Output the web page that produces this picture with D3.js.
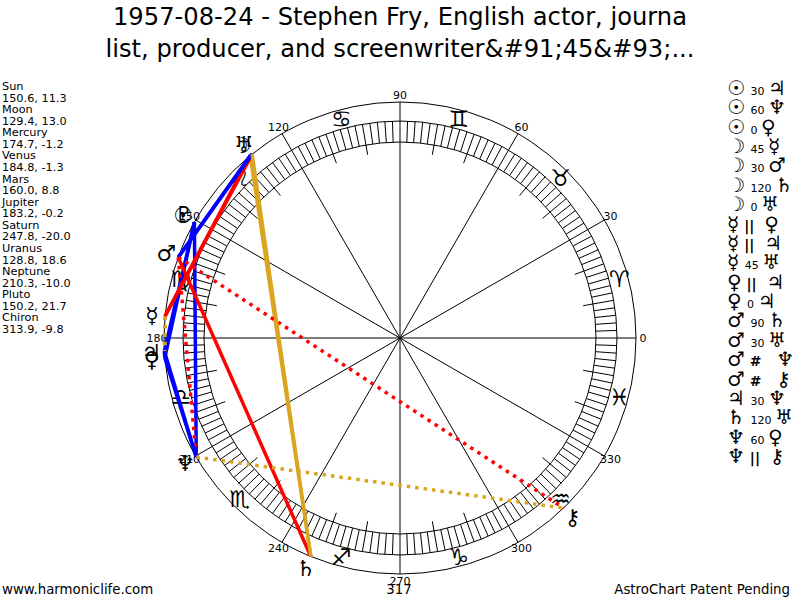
<!DOCTYPE html>
<html><head><meta charset="utf-8">
<script src="https://cdn.jsdelivr.net/npm/d3@7/dist/d3.min.js"></script>
<style>html,body{margin:0;padding:0;background:#fff}svg{display:block}text{font-family:"DejaVu Sans",sans-serif;fill:#000}.g{font-family:"DejaVu Serif","DejaVu Sans",serif}</style>
</head><body><svg id="c" width="800" height="600"></svg>
<script>
const titleLines = ["1957-08-24 - Stephen Fry, English actor, journa", "list, producer, and screenwriter&#91;45&#93;..."];
const planetNames = ["Sun","Moon","Mercury","Venus","Mars","Jupiter","Saturn","Uranus","Neptune","Pluto","Chiron"];
const planetLon = [150.6,129.4,174.7,184.8,160.0,183.2,247.8,128.8,210.3,150.2,313.9];
const planetLat = [11.3,13.0,-1.2,-1.3,8.8,-0.2,-20.0,18.6,-10.0,21.7,-9.8];
const planetGlyphs = ["\u2609","\u263D","\u263F","\u2640","\u2642","\u2643","\u2644","\u2645","\u2646","\u2647","\u26B7"];
const signGlyphs = ["\u2648","\u2649","\u264A","\u264B","\u264C","\u264D","\u264E","\u264F","\u2650","\u2651","\u2652","\u2653"];
const aspectFrom = [0,0,0,1,1,1,1,2,2,2,3,3,4,4,4,4,5,6,8,8];
const aspectKind = ["30","60","0","45","30","120","0","||","||","45","||","0","90","30","#","#","30","120","60","||"];
const aspectTo   = [5,8,3,2,4,6,7,3,5,7,5,5,6,7,8,10,8,7,3,10];
const degreeLabels = [0,30,60,90,120,150,180,210,240,270,300,330];
const aspectColor = {"0":"#0000ff","30":"#0000ff","60":"#0000ff","120":"#daa520","45":"#ff0000","90":"#ff0000","||":"#daa520","#":"#ff0000"};

const svg = d3.select("#c");
const cx = 400, cy = 338;
const angle = d3.scaleLinear().domain([0,360]).range([0,-2*Math.PI]);
const radius = d3.scaleLinear().domain([0,1]).range([0,236]);
const px = (deg,r)=>cx+radius(r)*Math.cos(angle(deg));
const py = (deg,r)=>cy+radius(r)*Math.sin(angle(deg));
const R_OUT=1, R_RING=217/236, R_IN=196/236, R_TICK=186/236, R_SIGN=227/236, R_GLYPH=249/236, R_LABEL=243/236;

titleLines.forEach((t,i)=>svg.append("text").attr("x",400).attr("y",25+i*32).attr("text-anchor","middle").attr("font-size",24.2).text(t));

const chart = svg.append("g");
[R_OUT,R_RING,R_IN].forEach(r=>chart.append("circle").attr("cx",cx).attr("cy",cy).attr("r",radius(r)).attr("fill","none").attr("stroke","#000"));
chart.selectAll("line.tick").data(d3.range(0,360,2)).join("line").attr("class","tick")
  .attr("x1",d=>px(d,d%30===0?0:(d%10===0?R_TICK:R_IN))).attr("y1",d=>py(d,d%30===0?0:(d%10===0?R_TICK:R_IN)))
  .attr("x2",d=>px(d,d%30===0?R_OUT:R_RING)).attr("y2",d=>py(d,d%30===0?R_OUT:R_RING))
  .attr("stroke","#000");
chart.selectAll("text.deg").data(degreeLabels).join("text").attr("class","deg")
  .attr("x",d=>px(d,R_LABEL)).attr("y",d=>py(d,R_LABEL)).attr("dy","0.35em").attr("text-anchor","middle").attr("font-size",11).text(d=>d);
chart.selectAll("text.sign").data(signGlyphs).join("text").attr("class","sign g")
  .attr("x",(d,i)=>px(15+30*i,R_SIGN)).attr("y",(d,i)=>py(15+30*i,R_SIGN)).attr("dy","0.35em").attr("text-anchor","middle").attr("font-size",23).text(d=>d+"\uFE0E");

const aspects = aspectFrom.map((f,i)=>({f,t:aspectTo[i],k:aspectKind[i]}));
chart.selectAll("line.asp").data(aspects).join("line").attr("class","asp")
  .attr("x1",d=>px(planetLon[d.f],R_OUT)).attr("y1",d=>py(planetLon[d.f],R_OUT))
  .attr("x2",d=>px(planetLon[d.t],R_OUT)).attr("y2",d=>py(planetLon[d.t],R_OUT))
  .attr("stroke",d=>aspectColor[d.k]).attr("stroke-width",3.5)
  .attr("stroke-dasharray",d=>(d.k==="||"||d.k==="#")?"3.5 5":null);
chart.selectAll("text.pl").data(planetGlyphs).join("text").attr("class","pl g")
  .attr("x",(d,i)=>px(planetLon[i],R_GLYPH)).attr("y",(d,i)=>py(planetLon[i],R_GLYPH)).attr("dy","0.35em").attr("text-anchor","middle").attr("font-size",22).text(d=>d+"\uFE0E");

const info = svg.append("g").attr("font-size",11.3);
planetNames.forEach((n,i)=>{
  info.append("text").attr("x",2).attr("y",90+i*23.14).text(n);
  info.append("text").attr("x",2).attr("y",90+i*23.14+11.57).text(planetLon[i].toFixed(1)+", "+planetLat[i].toFixed(1));
});

const tbl = svg.append("g");
aspects.forEach((a,i)=>{
  const y = 95+i*19.37;
  const row = tbl.append("text").attr("x",727).attr("y",y).attr("xml:space","preserve").style("white-space","pre");
  row.append("tspan").attr("class","g").attr("font-size",20).text(planetGlyphs[a.f]+"\uFE0E");
  const sym = a.k==="||"||a.k==="#";
  row.append("tspan").attr("font-size",sym?14:11).attr("font-weight",sym?"bold":null).attr("dx",sym?0:2)
     .text(" "+a.k+(a.k==="#"?"   ":a.k==="||"?"  ":" "));
  row.append("tspan").attr("class","g").attr("font-size",20).text(planetGlyphs[a.t]+"\uFE0E");
});

svg.append("text").attr("x",2).attr("y",594).attr("font-size",13.33).text("www.harmoniclife.com");
svg.append("text").attr("x",399).attr("y",594).attr("text-anchor","middle").attr("font-size",13.33).text("317");
svg.append("text").attr("x",790).attr("y",594).attr("text-anchor","end").attr("font-size",13.33).text("AstroChart Patent Pending");
</script></body></html>
